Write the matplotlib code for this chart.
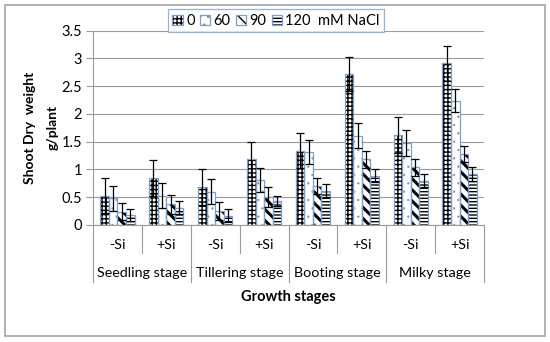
import matplotlib
matplotlib.use("Agg")
import matplotlib.pyplot as plt
import numpy as np
from matplotlib.patches import Patch, Rectangle
from matplotlib.legend_handler import HandlerTuple
import matplotlib.transforms as mtransforms

plt.rcParams['font.family'] = ['Lato', 'DejaVu Sans']

stages = ['Seedling stage', 'Tillering stage', 'Booting stage', 'Milky stage']
si_labels = ['-Si', '+Si']
nacl_labels = ['0', '60', '90', '120  mM NaCl']

# shoot dry weight (g/plant), order: seedling -Si, +Si, tillering -Si, +Si, ...
dw_0 = [0.53, 0.85, 0.68, 1.18, 1.34, 2.72, 1.62, 2.91]
dw_60 = [0.48, 0.53, 0.60, 0.81, 1.32, 1.61, 1.48, 2.24]
dw_90 = [0.24, 0.37, 0.25, 0.51, 0.70, 1.18, 1.04, 1.28]
dw_120 = [0.18, 0.31, 0.17, 0.43, 0.62, 0.89, 0.80, 0.92]

err_0 = [0.32, 0.32, 0.32, 0.32, 0.32, 0.31, 0.32, 0.31]
err_60 = [0.22, 0.22, 0.23, 0.21, 0.22, 0.22, 0.23, 0.21]
err_90 = [0.15, 0.17, 0.16, 0.18, 0.15, 0.15, 0.15, 0.14]
err_120 = [0.11, 0.12, 0.12, 0.09, 0.12, 0.11, 0.11, 0.12]

series = [dw_0, dw_60, dw_90, dw_120]
errors = [err_0, err_60, err_90, err_120]
hatches = ['++++', '..', '\\\\\\', '-----']
hatch_lw = [1.0, 0.4, 2.2, 1.0]
hatch_col = ['black', '#909090', 'black', 'black']
edge_blue = '#7BA0CD'

fig = plt.figure(figsize=(5.5, 3.42), dpi=100)
ax = fig.add_axes([93 / 550, 1 - 225 / 342, (484 - 93) / 550, (225 - 30.7) / 342])

x = np.arange(len(dw_0))
w = 0.175
handles = []
for k, (vals, errs) in enumerate(zip(series, errors)):
    pos = x + (k - 1.5) * w
    with plt.rc_context({'hatch.linewidth': hatch_lw[k]}):
        ax.bar(pos, vals, w, color='white', edgecolor=hatch_col[k], linewidth=0,
               hatch=hatches[k], zorder=2)
        hp = Patch(facecolor='white', edgecolor=hatch_col[k], linewidth=0, hatch=hatches[k])
    ax.bar(pos, vals, w, fill=False, edgecolor=edge_blue, linewidth=0.9, zorder=3)
    ax.errorbar(pos, vals, yerr=errs, fmt='none', ecolor='black', elinewidth=0.9,
                capsize=2.8, capthick=0.9, zorder=4)
    handles.append((hp, Patch(fill=False, edgecolor=edge_blue, linewidth=0.9)))

ax.set_xlim(-0.5, len(dw_0) - 0.5)
ax.set_ylim(0, 3.5)
ax.set_yticks(np.arange(0, 3.51, 0.5))
ax.set_yticklabels(['0', '0.5', '1', '1.5', '2', '2.5', '3', '3.5'])
ax.set_xticks([])
ax.grid(axis='y', color='#9a9a9a', linewidth=0.8, zorder=0)
ax.set_axisbelow(True)
for s in ['top', 'right']:
    ax.spines[s].set_visible(False)
for s in ['left', 'bottom']:
    ax.spines[s].set_color('#9a9a9a')
    ax.spines[s].set_linewidth(0.8)
ax.tick_params(axis='y', length=5, color='#9a9a9a', labelsize=10.5, pad=3)

ax.set_ylabel('Shoot Dry  weight\ng/plant', fontsize=10, fontweight='bold',
              linespacing=2.0, labelpad=2)

# category axis: Si labels, stage labels and dividers
tr = mtransforms.blended_transform_factory(ax.transData, ax.transAxes)
for i in range(len(dw_0)):
    ax.text(x[i], -0.103, si_labels[i % 2], transform=tr, ha='center', va='center',
            fontsize=10.3)
for j, st in enumerate(stages):
    ax.text(2 * j + 0.5, -0.247, st, transform=tr, ha='center', va='center', fontsize=10.3)
for b in range(len(dw_0) + 1):
    bx = b - 0.5
    ybot = -0.293 if b % 2 == 0 else -0.144
    ax.plot([bx, bx], [0, ybot], transform=tr, color='#9a9a9a', linewidth=0.8,
            clip_on=False)
ax.text(0.5, -0.37, 'Growth stages', transform=ax.transAxes, ha='center', va='center',
        fontsize=10.5, fontweight='bold')

leg = fig.legend(handles, nacl_labels, loc='center', bbox_to_anchor=(0.502, 0.939),
                 ncol=4, handler_map={tuple: HandlerTuple(ndivide=1, pad=0)},
                 handlelength=0.7, handleheight=0.7, handletextpad=0.25,
                 columnspacing=0.35, fontsize=10.5, frameon=True, fancybox=False,
                 borderpad=0.3, borderaxespad=0)
leg.get_frame().set_edgecolor(edge_blue)
leg.get_frame().set_linewidth(0.9)

fig.patches.append(Rectangle((5 / 550, 1 - 336 / 342), 540 / 550, 331 / 342,
                             transform=fig.transFigure, fill=False,
                             edgecolor='#a6a6a6', linewidth=1.2))

fig.savefig('out.png', dpi=100)
